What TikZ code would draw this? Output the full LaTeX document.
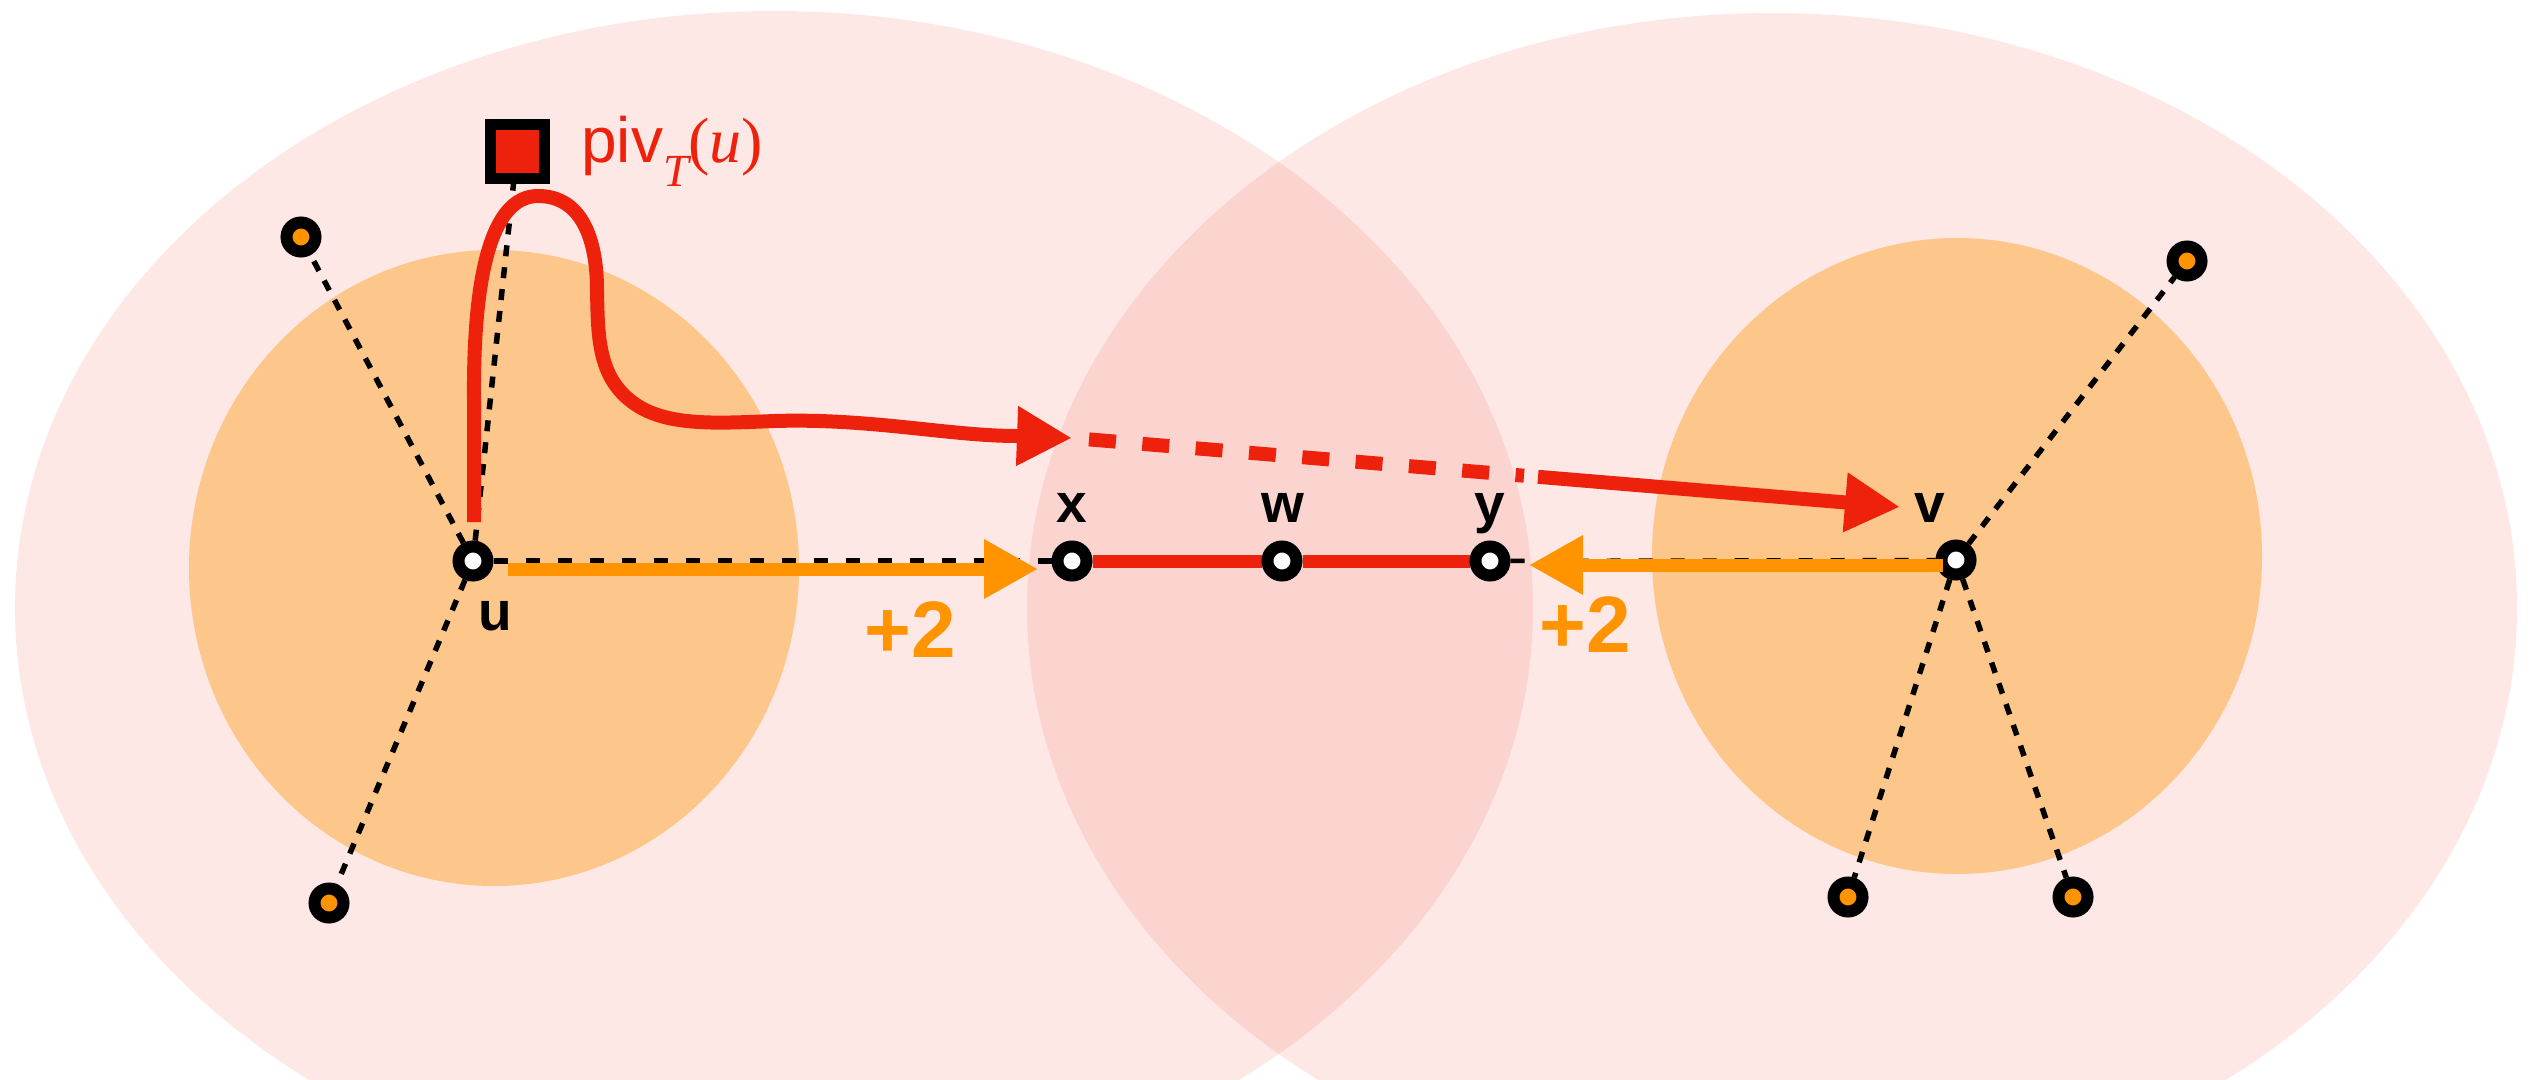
\documentclass[tikz,border=0pt]{standalone}
\usepackage{fontspec}
\setsansfont{Liberation Sans}
\newfontfamily\timesf{Liberation Serif}
\usetikzlibrary{arrows.meta}
\definecolor{myred}{HTML}{EE220C}
\definecolor{myorange}{HTML}{FF9300}
\pgfdeclarelayer{bglayer}
\pgfdeclarelayer{midlayer}
\pgfsetlayers{bglayer,midlayer,main}
\tikzset{
  vnode/.style={circle, draw=black, line width=12pt, fill=white, minimum size=29pt, inner sep=0pt},
  leaf/.style={vnode, fill=myorange},
  pivbox/.style={rectangle, draw=black, line width=11pt, fill=myred, minimum size=54pt, inner sep=0pt},
  lbl/.style={font=\fontsize{55}{60}\selectfont\sffamily\bfseries, inner sep=0pt, anchor=base},
  plus/.style={font=\fontsize{80}{90}\selectfont\sffamily\bfseries, text=myorange, inner sep=0pt, anchor=base},
  diagdash/.style={line width=5.5pt, dash pattern=on 11pt off 11pt},
  horizdash/.style={line width=5.5pt, dash pattern=on 14pt off 18pt},
  redline/.style={draw=myred, line width=14pt},
  orangearrow/.style={draw=myorange, line width=13pt, -{Triangle[length=54pt,width=56pt]}},
  bigtip/.style={-{Triangle[length=55pt,width=56pt]}},
  pinkfill/.style={fill=myred, fill opacity=0.1},
  orangefill/.style={fill=myorange, fill opacity=0.4}
}
\begin{document}
\begin{tikzpicture}[x=1pt,y=-1pt]
\useasboundingbox (0,0) rectangle (2534,1079);
\begin{pgfonlayer}{bglayer}
  \fill[white] (0,0) rectangle (2534,1079);
  \begin{scope}
    \clip (0,0) rectangle (2534,1079);
    \fill[pinkfill] (774,608) ellipse [x radius=759pt, y radius=597pt];
    \fill[pinkfill] (1772,608) ellipse [x radius=745pt, y radius=595pt];
    \fill[orangefill] (494,568) ellipse [x radius=305pt, y radius=318pt];
    \fill[orangefill] (1957,556) ellipse [x radius=305pt, y radius=318pt];
  \end{scope}
\end{pgfonlayer}

% nodes
\node[vnode] (u) at (473,561) {};
\node[vnode] (x) at (1072,561) {};
\node[vnode] (w) at (1282,561) {};
\node[vnode] (y) at (1490,561) {};
\node[vnode] (v) at (1956,560) {};
\node[leaf] (l1) at (301,237) {};
\node[leaf] (l2) at (329,903) {};
\node[leaf] (r1) at (2187,261) {};
\node[leaf] (r2) at (1848,897) {};
\node[leaf] (r3) at (2073,897) {};
\node[pivbox] (p) at (517,151) {};

% labels
\node[lbl] (lx) at (1072,522) {x};
\node[lbl] (lw) at (1283,522) {w};
\node[lbl] (ly) at (1490,522) {y};
\node[lbl] (lv) at (1930,522) {v};
\node[lbl] (lu) at (495,630) {u};
\node[plus] (p1) at (910,657) {+2};
\node[plus] (p2) at (1585,652) {+2};
\node[inner sep=0pt, anchor=base west, text=myred] (pl) at (581,162)
  {{\fontsize{64}{70}\selectfont\sffamily piv}\raisebox{-24pt}{\fontsize{46}{50}\selectfont\timesf\itshape T}{\fontsize{64}{70}\selectfont\timesf (\textit{u})}};

% coordinates for free ends
\coordinate (c0) at (474,522);
\coordinate (a1) at (1072,438);
\coordinate (d0) at (1089,439.4);
\coordinate (d1) at (1524,475.7);
\coordinate (d2) at (1538,476.8);
\coordinate (a2) at (1900,507);
\coordinate (o1s) at (508,569);
\coordinate (o1e) at (1038,569);
\coordinate (o2s) at (1943,565);
\coordinate (o2e) at (1529,565);

\begin{pgfonlayer}{midlayer}
  \draw[diagdash] (u) -- (l1);
  \draw[diagdash] (u) -- (l2);
  \draw[diagdash] (u) -- (p);
  \draw[horizdash] (u) -- (x);
  \draw[horizdash, line width=4.5pt] (y) -- (v);
  \draw[diagdash] (v) -- (r1);
  \draw[diagdash] (v) -- (r2);
  \draw[diagdash] (v) -- (r3);
  \draw[draw=myred, line width=13pt] (x) -- (w) -- (y);
  \draw[redline, bigtip] (c0) -- (474,400) .. controls (473,280) and (490,196) .. (538,196)
     .. controls (582,196) and (597,240) .. (597,290)
     .. controls (598,335) and (597,378) .. (635,404)
     .. controls (668,427) and (720,423) .. (775,421)
     .. controls (870,418) and (950,436) .. (1017,436) -- (a1);
  \draw[redline, dash pattern=on 27pt off 26.5pt] (d0) -- (d1);
  \draw[redline, bigtip] (d2) -- (a2);
\end{pgfonlayer}

\draw[orangearrow] (o1s) -- (o1e);
\draw[orangearrow] (o2s) -- (o2e);
\end{tikzpicture}
\end{document}
